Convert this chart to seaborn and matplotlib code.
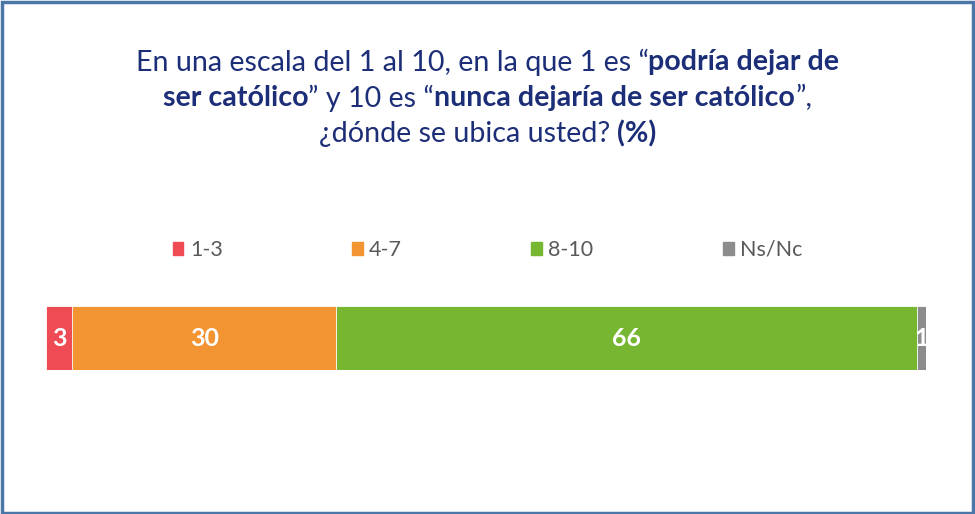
import matplotlib
matplotlib.use("Agg")
import matplotlib.pyplot as plt
import matplotlib.patches as mpatches
import numpy as np
import seaborn as sns

# ── Data ────────────────────────────────────────────────────────────────────
categories = ["1-3", "4-7", "8-10", "Ns/Nc"]
values = [3, 30, 66, 1]
colors = ["#ef4b55", "#f39433", "#77b630", "#8c8c8c"]

title_lines = [
    [("En una escala del 1 al 10, en la que 1 es “", False), ("podría dejar de", True)],
    [("ser católico", True), ("” y 10 es “", False), ("nunca dejaría de ser católico", True), ("”,", False)],
    [("¿dónde se ubica usted? ", False), ("(%)", True)],
]

sns.set_theme(style="white")
plt.rcParams["font.family"] = ["Lato", "DejaVu Sans"]

W, H = 975, 514
fig = plt.figure(figsize=(W / 100, H / 100), dpi=100)
fig.patch.set_facecolor("white")

# frame around the whole picture
fig.patches.append(mpatches.Rectangle(
    (1.5 / W, 1.5 / H), 1 - 4 / W, 1 - 3.5 / H, transform=fig.transFigure,
    fill=False, edgecolor="#4a77a8", linewidth=2.5))

# ── Stacked bar (cumulative totals drawn back to front) ────────────────────
ax = fig.add_axes([46 / W, 1 - 370 / H, 880 / W, 64 / H])
cum = np.cumsum(values)
for total, col in reversed(list(zip(cum, colors))):
    sns.barplot(x=[total], y=["all"], orient="h", color=col, width=1.0,
                edgecolor="white", linewidth=0.6, saturation=1, ax=ax)
ax.set_xlim(0, 100)
ax.set_ylim(0.5, -0.5)
ax.axis("off")

starts = cum - np.array(values)
for s, v in zip(starts, values):
    ax.text(s + v / 2, 0, str(v), ha="center", va="center", color="white",
            fontsize=18, fontweight="bold")

# ── Legend ─────────────────────────────────────────────────────────────────
handles = [mpatches.Patch(facecolor=c, edgecolor=c, label=l)
           for l, c in zip(categories, colors)]
fig.legend(handles=handles, loc="center", bbox_to_anchor=(0.5, 1 - 250 / H),
           ncol=4, frameon=False, fontsize=15.5, handlelength=0.5,
           handleheight=0.6, handletextpad=0.3, columnspacing=6.0,
           labelcolor="#595959")

# ── Title with mixed bold runs ─────────────────────────────────────────────
fig.canvas.draw()
renderer = fig.canvas.get_renderer()
title_color = "#1c2e78"
line_y = [62, 98, 134]
for segs, yp in zip(title_lines, line_y):
    texts = []
    for s, bold in segs:
        t = fig.text(0, 1 - yp / H, s, fontsize=20.6, color=title_color,
                     fontweight="bold" if bold else "normal", va="center", ha="left")
        texts.append(t)
    widths = [t.get_window_extent(renderer).width for t in texts]
    x = (W - sum(widths)) / 2
    for t, w in zip(texts, widths):
        t.set_x(x / W)
        x += w

fig.savefig("out.png", dpi=100)
